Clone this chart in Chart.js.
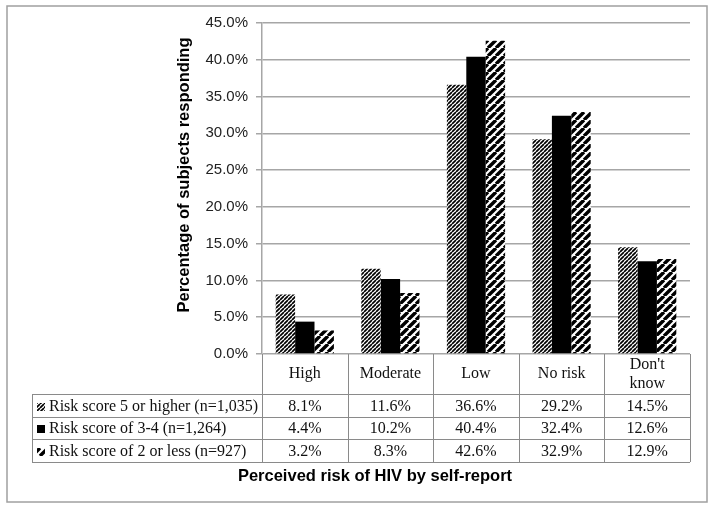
<!DOCTYPE html>
<html>
<head>
<meta charset="utf-8">
<script src="https://cdn.jsdelivr.net/npm/chart.js@4"></script>
<style>
  html, body { margin: 0; padding: 0; background: #fff; }
  #wrap { width: 714px; height: 510px; position: relative; }
</style>
</head>
<body>
<div id="wrap"><canvas id="riskChart"></canvas></div>
<script>
// Perceived risk of HIV by self-report, split by risk score group
const categories = ["High", "Moderate", "Low", "No risk", ["Don't", "know"]];
const seriesNames = [
  "Risk score 5 or higher (n=1,035)",
  "Risk score of 3-4 (n=1,264)",
  "Risk score of 2 or less (n=927)"
];
const highScore = [8.1, 11.6, 36.6, 29.2, 14.5];
const midScore = [4.4, 10.2, 40.4, 32.4, 12.6];
const lowScore = [3.2, 8.3, 42.6, 32.9, 12.9];
const yTicks = [0, 5, 10, 15, 20, 25, 30, 35, 40, 45];

const Y_TITLE = "Percentage of subjects responding";
const X_TITLE = "Perceived risk of HIV by self-report";

// diagonal hatch patterns ("/" direction)
function makeHatch(size, width) {
  const c = document.createElement("canvas");
  c.width = size; c.height = size;
  const g = c.getContext("2d");
  g.fillStyle = "#fff";
  g.fillRect(0, 0, size, size);
  g.strokeStyle = "#000";
  g.lineWidth = width;
  g.beginPath();
  for (const k of [-size, 0, size]) {
    g.moveTo(k, size);
    g.lineTo(k + size, 0);
  }
  g.stroke();
  return g.createPattern(c, "repeat");
}

const fineHatch = makeHatch(4, 1.7);
const wideHatch = makeHatch(8, 3.4);
const fills = [fineHatch, "#000", wideHatch];

// table rows below the plot
const ROW_Y = [394, 417, 439, 462];
const TABLE_LEFT = 32;

const tablePlugin = {
  id: "riskTable",
  beforeDraw(chart) {
    const ctx = chart.ctx;
    ctx.save();
    ctx.fillStyle = "#fff";
    ctx.fillRect(0, 0, chart.width, chart.height);
    ctx.strokeStyle = "#a0a0a0";
    ctx.lineWidth = 1.5;
    ctx.strokeRect(7, 6, 700, 496);
    ctx.restore();
  },
  afterDraw(chart) {
    const ctx = chart.ctx;
    const area = chart.chartArea;
    const n = categories.length;
    const colW = (area.right - area.left) / n;
    const series = [highScore, midScore, lowScore];

    ctx.save();
    ctx.strokeStyle = "#8a8a8a";
    ctx.lineWidth = 1;

    // vertical column lines
    ctx.beginPath();
    for (let i = 0; i <= n; i++) {
      const x = Math.round(area.left + i * colW) + 0.5;
      ctx.moveTo(x, area.bottom);
      ctx.lineTo(x, ROW_Y[3]);
    }
    ctx.moveTo(TABLE_LEFT + 0.5, ROW_Y[0]);
    ctx.lineTo(TABLE_LEFT + 0.5, ROW_Y[3]);
    // horizontal row lines
    ROW_Y.forEach(y => {
      ctx.moveTo(TABLE_LEFT, y + 0.5);
      ctx.lineTo(area.right, y + 0.5);
    });
    ctx.stroke();

    ctx.fillStyle = "#111";
    ctx.font = "16px 'Liberation Serif'";
    ctx.textAlign = "center";
    ctx.textBaseline = "middle";

    // header labels
    categories.forEach((lab, i) => {
      const cx = area.left + (i + 0.5) * colW;
      const midY = (area.bottom + ROW_Y[0]) / 2;
      if (Array.isArray(lab)) {
        ctx.fillText(lab[0], cx, midY - 9);
        ctx.fillText(lab[1], cx, midY + 10);
      } else {
        ctx.fillText(lab, cx, midY);
      }
    });

    // data rows with legend keys
    series.forEach((vals, r) => {
      const cy = (ROW_Y[r] + ROW_Y[r + 1]) / 2 + 1;
      ctx.fillStyle = fills[r];
      ctx.fillRect(37, Math.round(cy - 4), 8, 8);
      ctx.fillStyle = "#111";
      ctx.textAlign = "left";
      ctx.fillText(seriesNames[r], 49, cy);
      ctx.textAlign = "center";
      vals.forEach((v, i) => {
        ctx.fillText(v.toFixed(1) + "%", area.left + (i + 0.5) * colW, cy);
      });
    });

    // axis titles
    ctx.fillStyle = "#000";
    ctx.font = "bold 16.5px 'Liberation Sans'";
    ctx.fillText(X_TITLE, 375, 476);
    ctx.translate(184, 175);
    ctx.rotate(-Math.PI / 2);
    ctx.fillText(Y_TITLE, 0, 0);
    ctx.restore();
  }
};

new Chart(document.getElementById("riskChart"), {
  type: "bar",
  data: {
    labels: categories,
    datasets: [
      { label: seriesNames[0], data: highScore, backgroundColor: fineHatch },
      { label: seriesNames[1], data: midScore, backgroundColor: "#000" },
      { label: seriesNames[2], data: lowScore, backgroundColor: wideHatch }
    ]
  },
  options: {
    responsive: true,
    maintainAspectRatio: false,
    animation: false,
    layout: { padding: { left: 0, top: 23, right: 24, bottom: 156 } },
    datasets: { bar: { categoryPercentage: 0.68, barPercentage: 1.0, borderWidth: 0 } },
    scales: {
      x: { display: false },
      y: {
        min: 0,
        max: 45,
        afterFit(scale) { scale.width = 262; },
        afterBuildTicks(scale) { scale.ticks = yTicks.map(v => ({ value: v })); },
        ticks: {
          padding: 8,
          color: "#222",
          font: { family: "'Liberation Sans'", size: 15 },
          callback: v => v.toFixed(1) + "%"
        },
        grid: { color: "#a6a6a6", lineWidth: 1.5, tickLength: 6 },
        border: { color: "#a6a6a6", width: 1.5 }
      }
    },
    plugins: {
      legend: { display: false },
      tooltip: { enabled: false }
    }
  },
  plugins: [tablePlugin]
});
</script>
</body>
</html>
